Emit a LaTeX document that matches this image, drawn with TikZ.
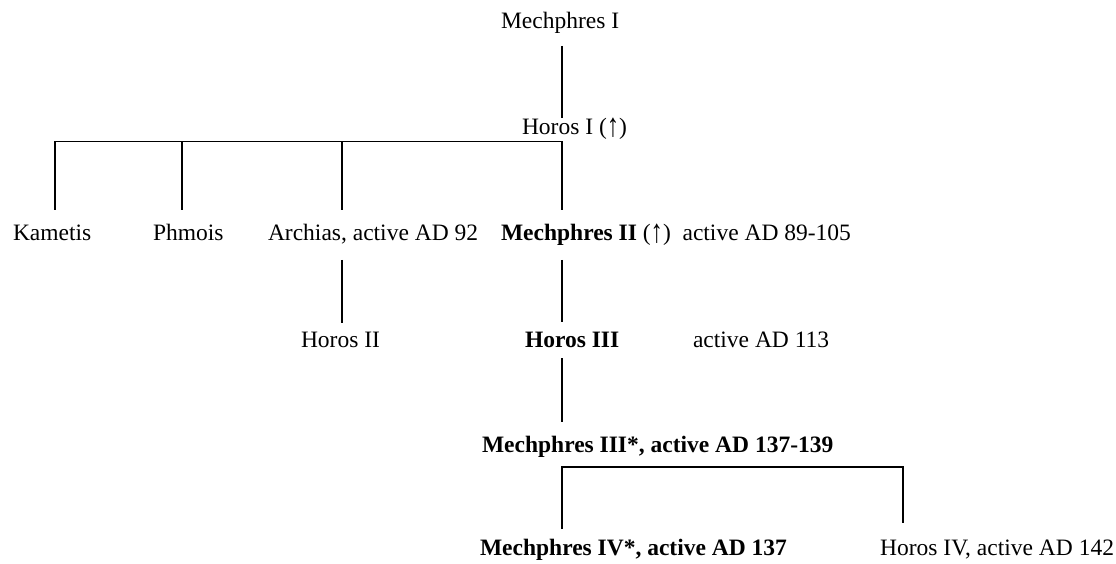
\documentclass[tikz,border=0pt]{standalone}
\usepackage{fontspec}
\usepackage{graphicx}
\setmainfont{Liberation Serif}
\newcommand{\uparw}{{\mdseries\raisebox{-0.06em}{\scalebox{1.05}[1.4]{↑}}}}
\begin{document}
\begin{tikzpicture}[x=1pt,y=1pt,
  lbl/.style={anchor=base west,inner sep=0pt,outer sep=0pt,font=\fontsize{23.5}{28}\selectfont},
  blbl/.style={lbl,font=\fontsize{23.5}{28}\selectfont\bfseries},
  link/.style={line width=1.2pt,line cap=butt}]
\useasboundingbox (0,0) rectangle (1116,563);
% labels
\node[lbl]  (mI)   at (501,534) {Mechphres I};
\node[lbl]  (hI)   at (522,428) {Horos I (\uparw)};
\node[lbl]  (kam)  at (13,322)  {Kametis};
\node[lbl]  (phm)  at (153,322) {Phmois};
\node[lbl]  (arc)  at (268,322) {Archias, active AD 92};
\node[lbl]  (mII)  at (501,322) {\textbf{Mechphres II} (\uparw)\ \ active AD 89-105};
\node[lbl]  (hII)  at (301,216) {Horos II};
\node[blbl] (hIII) at (525,216) {Horos III};
\node[lbl]  (a113) at (693,216) {active AD 113};
\node[blbl] (mIII) at (482,111) {Mechphres III*, active AD 137-139};
\node[blbl] (mIV)  at (480,8)   {Mechphres IV*, active AD 137};
\node[lbl,anchor=base east] (hIV) at (1114,8) {Horos IV, active AD 142};
% junction coordinates
\coordinate (mIb)   at (562,517);
\coordinate (hIt)   at (562,445);
\coordinate (barR)  at (562,421.5);
\coordinate (barL)  at (55,421.5);
\coordinate (kamT)  at (55,353);
\coordinate (phmB)  at (182,421.5);
\coordinate (phmT)  at (182,353);
\coordinate (arcB)  at (342,421.5);
\coordinate (arcT)  at (342,353);
\coordinate (mIIT)  at (562,353);
\coordinate (arcD)  at (342,303);
\coordinate (hIIT)  at (342,240);
\coordinate (mIID)  at (562,303);
\coordinate (hIIIT) at (562,241);
\coordinate (hIIID) at (562,205);
\coordinate (mIIIT) at (562,141);
\coordinate (brL)   at (562,96);
\coordinate (brR)   at (903,96);
\coordinate (mIVT)  at (562,34);
\coordinate (hIVT)  at (903,40);
% connectors
\draw[link] (mIb) -- (hIt);
\draw[link] (kamT) -- (barL) -- (barR) -- (mIIT);
\draw[link] (phmB) -- (phmT);
\draw[link] (arcB) -- (arcT);
\draw[link] (arcD) -- (hIIT);
\draw[link] (mIID) -- (hIIIT);
\draw[link] (hIIID) -- (mIIIT);
\draw[link] (mIVT) -- (brL) -- (brR) -- (hIVT);
\end{tikzpicture}
\end{document}
